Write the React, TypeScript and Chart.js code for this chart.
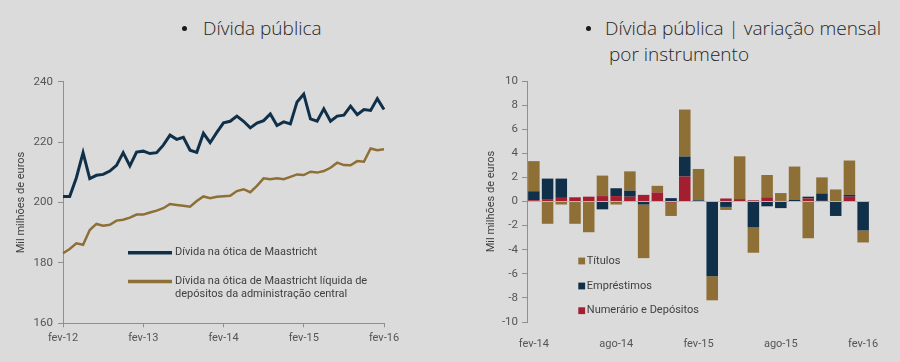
import React, { useEffect, useRef } from 'react';
import { Chart, registerables } from 'chart.js';
Chart.register(...registerables);

// ---------- DATA ----------
const lineMonths = [
  'fev-12','mar-12','abr-12','mai-12','jun-12','jul-12','ago-12','set-12','out-12','nov-12','dez-12','jan-13',
  'fev-13','mar-13','abr-13','mai-13','jun-13','jul-13','ago-13','set-13','out-13','nov-13','dez-13','jan-14',
  'fev-14','mar-14','abr-14','mai-14','jun-14','jul-14','ago-14','set-14','out-14','nov-14','dez-14','jan-15',
  'fev-15','mar-15','abr-15','mai-15','jun-15','jul-15','ago-15','set-15','out-15','nov-15','dez-15','jan-16',
  'fev-16',
];
const maastricht = [
  202, 202, 208.2, 216.5, 207.9, 209, 209.3, 210.4, 212.3, 216.5,
  212.1, 216.7, 217, 216.2, 216.5, 219, 222.3, 220.9, 221.6, 217.3,
  216.6, 222.9, 219.8, 223.2, 226.4, 226.9, 228.6, 226.9, 224.7, 226.3,
  227.1, 229.3, 225.5, 226.7, 226, 233.3, 235.9, 227.7, 226.9, 231,
  226.9, 228.6, 228.9, 231.9, 229.1, 230.8, 230.5, 234.4, 230.8,
];
const maastrichtLiquida = [
  183.2, 184.6, 186.5, 186, 190.9, 192.9, 192.3, 192.6, 194, 194.3,
  195, 196, 196, 196.7, 197.3, 198.1, 199.5, 199.2, 198.9, 198.6,
  200.5, 202, 201.4, 201.9, 202.1, 202.2, 203.8, 204.4, 203.4, 205.5,
  208, 207.7, 208, 207.7, 208.5, 209.3, 209.1, 210.2, 209.9, 210.4,
  211.5, 213.2, 212.4, 212.3, 213.7, 213.5, 217.9, 217.3, 217.6,
];
const lineLabels = [
  'Dívida na ótica de Maastricht',
  'Dívida na ótica de Maastricht líquida de\ndepósitos da administração central',
];

const barMonths = [
  'fev-14','mar-14','abr-14','mai-14','jun-14','jul-14','ago-14','set-14','out-14','nov-14','dez-14','jan-15',
  'fev-15','mar-15','abr-15','mai-15','jun-15','jul-15','ago-15','set-15','out-15','nov-15','dez-15','jan-16',
  'fev-16',
];
const numerario = [0.1, 0.2, 0.3, 0.35, 0.4, 0.45, 0.45, 0.4, 0.55, 0.75, -0.1, 2.07, 0, 0, 0.25, 0.2, 0.1, 0.35, 0.05, 0, 0.25, 0.05, 0, 0.4, 0];
const emprestimos = [0.75, 1.7, 1.6, -0.05, 0, -0.65, 0.65, 0.5, -0.25, 0, 0.28, 1.66, 0.1, -6.2, -0.45, 0, -2.15, -0.4, -0.55, 0.15, 0.15, 0.62, -1.2, 0.15, -2.4];
const titulos = [2.5, -1.85, -0.25, -1.8, -2.55, 1.7, -0.25, 1.6, -4.45, 0.55, -1.1, 3.9, 2.6, -2.0, -0.25, 3.55, -2.1, 1.85, 0.65, 2.75, -3.05, 1.33, 1.0, 2.85, -1.0];
const barLabels = ['Numerário e Depósitos', 'Empréstimos', 'Títulos'];

const leftTicks = [160, 180, 200, 220, 240];
const rightTicks = [-10, -8, -6, -4, -2, 0, 2, 4, 6, 8, 10];
const yTitle = 'Mil milhões de euros';

// ---------- STYLE ----------
const BG = '#dbdbdb';
const AXIS = '#8f8f8f';
const TEXT = '#555555';
const NAVY = '#10304a';
const GOLD = '#8e6f36';
const RED = '#a31e2f';
const FONT = 'Roboto';

const inlineLegend = {
  id: 'inlineLegend',
  afterDraw(chart: any, _args: any, opts: any) {
    const ctx = chart.ctx;
    ctx.save();
    ctx.font = `11px ${FONT}`;
    ctx.fillStyle = '#3f3f3f';
    ctx.textBaseline = 'middle';
    ctx.textAlign = 'left';
    (opts.items || []).forEach((it: any) => {
      const ds = chart.data.datasets[it.dataset];
      const color = ds.borderColor || ds.backgroundColor;
      if (opts.kind === 'line') {
        ctx.strokeStyle = color;
        ctx.lineWidth = 3.5;
        ctx.beginPath();
        ctx.moveTo(it.x, it.y);
        ctx.lineTo(it.x + 44, it.y);
        ctx.stroke();
        ctx.fillStyle = '#3f3f3f';
        const lines = String(ds.label).split('\n');
        lines.forEach((l: string, i: number) => ctx.fillText(l, it.x + 47, it.y + i * 12.5));
      } else {
        ctx.fillStyle = ds.backgroundColor;
        ctx.fillRect(it.x, it.y - 3.4, 6.8, 6.8);
        ctx.fillStyle = '#3f3f3f';
        ctx.fillText(ds.label, it.x + 8.5, it.y);
      }
    });
    ctx.restore();
  },
};

function LineChart() {
  const ref = useRef<HTMLCanvasElement>(null);
  useEffect(() => {
    const chart = new Chart(ref.current!, {
      type: 'line',
      data: {
        labels: lineMonths,
        datasets: [
          { label: lineLabels[0], data: maastricht, borderColor: NAVY, borderWidth: 3, pointRadius: 0, tension: 0, fill: false },
          { label: lineLabels[1], data: maastrichtLiquida, borderColor: GOLD, borderWidth: 2.5, pointRadius: 0, tension: 0, fill: false },
        ],
      },
      options: {
        animation: false,
        responsive: false,
        layout: { padding: { left: 0, right: 66, top: 21.7, bottom: 0 } },
        plugins: {
          legend: { display: false },
          tooltip: { enabled: false },
          inlineLegend: {
            kind: 'line',
            items: [
              { dataset: 0, x: 128, y: 192.7 },
              { dataset: 1, x: 128, y: 221.5 },
            ],
          },
        } as any,
        scales: {
          x: {
            type: 'category',
            offset: false,
            afterFit: (s: any) => { s.height = 38.7; },
            border: { display: true, color: AXIS, width: 1 },
            grid: {
              drawOnChartArea: false,
              drawTicks: true,
              tickLength: 4,
              color: (c: any) => (c.index % 12 === 0 ? AXIS : 'rgba(0,0,0,0)'),
            },
            ticks: {
              autoSkip: false,
              maxRotation: 0,
              padding: 4,
              color: TEXT,
              font: { family: FONT, size: 11 },
              callback: (_v: any, i: number) => (i % 12 === 0 ? lineMonths[i] : ''),
            },
          },
          y: {
            min: leftTicks[0],
            max: leftTicks[leftTicks.length - 1],
            afterFit: (s: any) => { s.width = 63; },
            afterBuildTicks: (s: any) => { s.ticks = leftTicks.map((v) => ({ value: v })); },
            border: { display: true, color: AXIS, width: 1 },
            grid: { drawOnChartArea: false, drawTicks: true, tickLength: 5, color: AXIS },
            ticks: { padding: 5, color: TEXT, font: { family: FONT, size: 11.5 } },
            title: {
              display: true,
              text: yTitle,
              color: '#3f3f3f',
              font: { family: FONT, size: 11 },
              padding: { top: 14.9, bottom: 0 },
            },
          },
        },
      },
      plugins: [inlineLegend as any],
    });
    return () => chart.destroy();
  }, []);
  return <canvas ref={ref} width={450} height={302} style={{ width: 450, height: 302, display: 'block' }} />;
}

function BarChart() {
  const ref = useRef<HTMLCanvasElement>(null);
  useEffect(() => {
    const chart = new Chart(ref.current!, {
      type: 'bar',
      data: {
        labels: barMonths,
        datasets: [
          { label: barLabels[0], data: numerario, backgroundColor: RED, borderWidth: 0 },
          { label: barLabels[1], data: emprestimos, backgroundColor: NAVY, borderWidth: 0 },
          { label: barLabels[2], data: titulos, backgroundColor: GOLD, borderWidth: 0 },
        ],
      },
      options: {
        animation: false,
        responsive: false,
        datasets: { bar: { barPercentage: 0.84, categoryPercentage: 1.0 } },
        layout: { padding: { left: 0, right: 30, top: 21, bottom: 0 } },
        plugins: {
          legend: { display: false },
          tooltip: { enabled: false },
          inlineLegend: {
            kind: 'bar',
            items: [
              { dataset: 2, x: 128.3, y: 201 },
              { dataset: 1, x: 128.3, y: 226 },
              { dataset: 0, x: 128.3, y: 250.7 },
            ],
          },
        } as any,
        scales: {
          x: {
            type: 'category',
            stacked: true,
            offset: true,
            afterFit: (s: any) => { s.height = 40; },
            border: { display: false },
            grid: { display: false },
            ticks: {
              autoSkip: false,
              maxRotation: 0,
              padding: 8,
              color: TEXT,
              font: { family: FONT, size: 11 },
              callback: (_v: any, i: number) => (i % 6 === 0 ? barMonths[i] : ''),
            },
          },
          y: {
            stacked: true,
            min: rightTicks[0],
            max: rightTicks[rightTicks.length - 1],
            afterFit: (s: any) => { s.width = 77; },
            afterBuildTicks: (s: any) => { s.ticks = rightTicks.map((v) => ({ value: v })); },
            border: { display: true, color: AXIS, width: 1 },
            grid: {
              drawOnChartArea: true,
              drawTicks: true,
              tickLength: 5,
              tickColor: AXIS,
              lineWidth: 1,
              color: (c: any) => (c.tick && c.tick.value === 0 ? '#b7b4bd' : 'rgba(0,0,0,0)'),
            },
            ticks: { padding: 4, color: TEXT, font: { family: FONT, size: 11.5 } },
            title: {
              display: true,
              text: yTitle,
              color: '#3f3f3f',
              font: { family: FONT, size: 11 },
              padding: { top: 34.4, bottom: 0 },
            },
          },
        },
      },
      plugins: [inlineLegend as any],
    });
    return () => chart.destroy();
  }, []);
  return <canvas ref={ref} width={450} height={302} style={{ width: 450, height: 302, display: 'block' }} />;
}

const titleFont: React.CSSProperties = {
  fontFamily: '"Open Sans", sans-serif',
  fontWeight: 300,
  fontSize: 19,
  lineHeight: '26px',
  color: '#262626',
  position: 'absolute',
  whiteSpace: 'nowrap',
};
const bullet: React.CSSProperties = {
  position: 'absolute',
  width: 5,
  height: 5,
  borderRadius: 2.5,
  background: '#1a1a1a',
};

export default function App() {
  return (
    <div style={{ position: 'absolute', left: 0, top: 0, width: 900, height: 362, background: BG, overflow: 'hidden' }}>
      <div style={{ ...bullet, left: 182, top: 26 }} />
      <div style={{ ...titleFont, left: 203, top: 15 }}>Dívida pública</div>
      <div style={{ ...bullet, left: 586, top: 26 }} />
      <div style={{ ...titleFont, left: 605, top: 15 }}>Dívida pública | variação mensal</div>
      <div style={{ ...titleFont, left: 609, top: 41 }}>por instrumento</div>
      <div style={{ position: 'absolute', left: 0, top: 60 }}>
        <LineChart />
      </div>
      <div style={{ position: 'absolute', left: 450, top: 60 }}>
        <BarChart />
      </div>
    </div>
  );
}
